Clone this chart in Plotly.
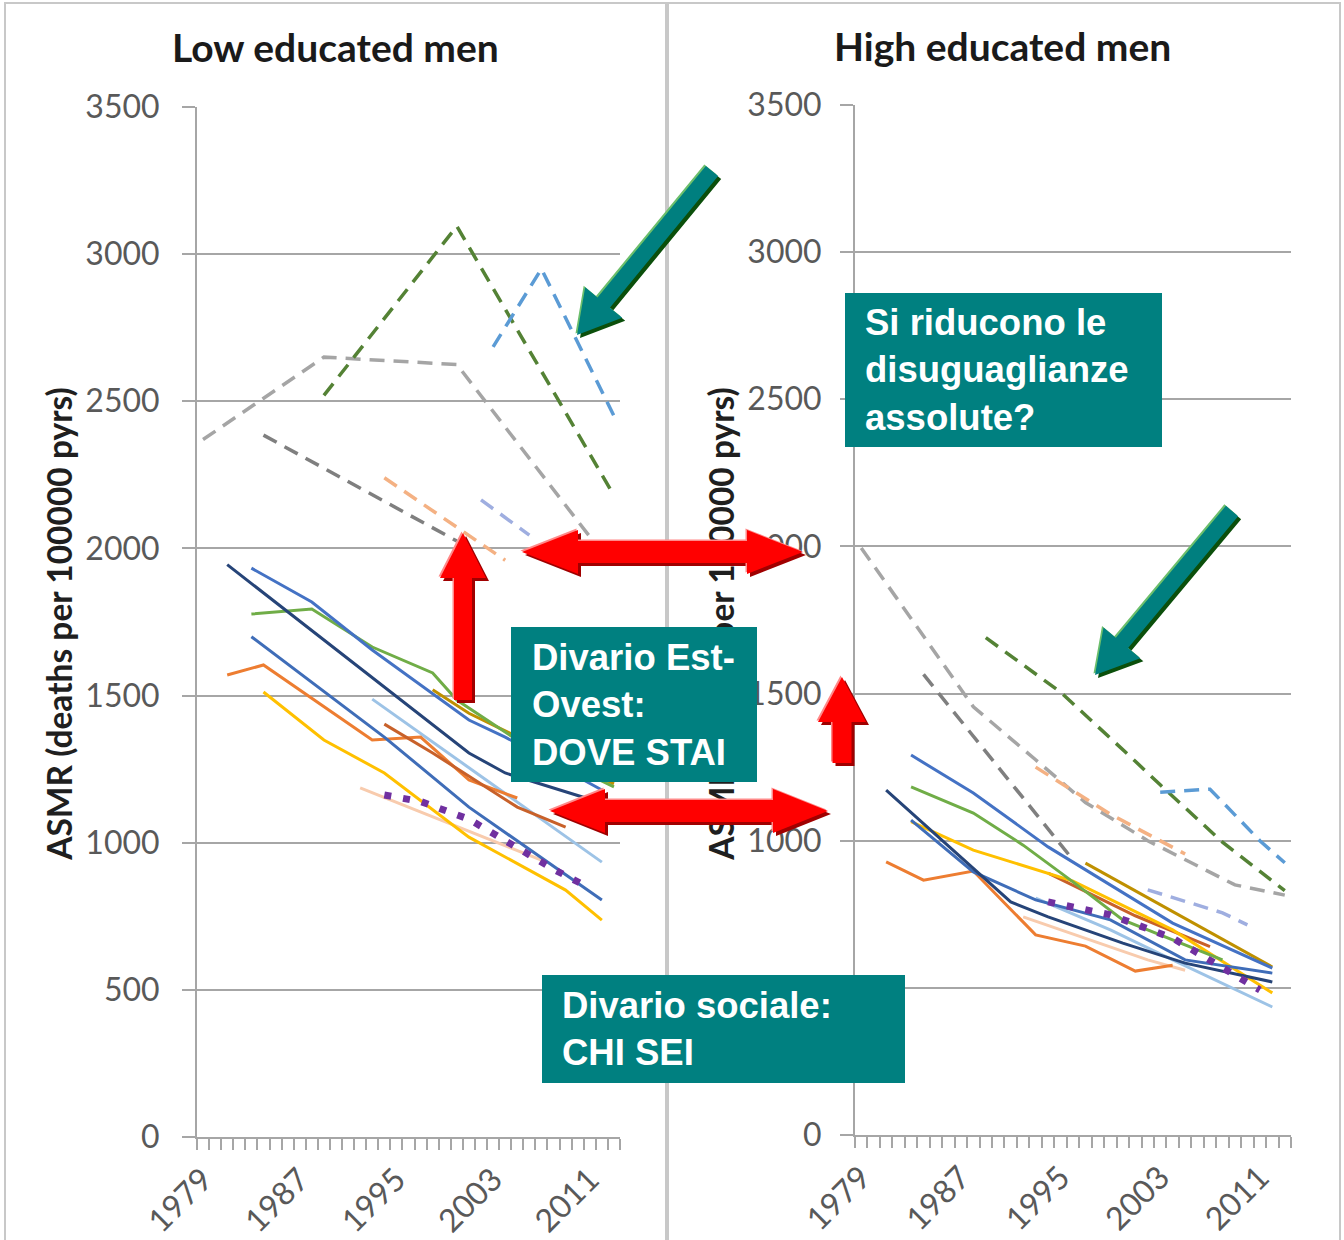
import plotly.graph_objects as go

# ---------------- data ----------------
X_TICKS = [1979, 1987, 1995, 2003, 2011]
X_TICK_LABELS = ["1979", "1987", "1995", "2003", "2011"]
Y_TICKS = [0, 500, 1000, 1500, 2000, 2500, 3000, 3500]

# Low educated men - dashed series
low_gray_light_x = [1979, 1989, 2000, 2011]
low_gray_light_y = [2370, 2650, 2625, 2040]
low_gray_dark_x = [1984, 2000]
low_gray_dark_y = [2385, 2025]
low_salmon_x = [1994, 2004]
low_salmon_y = [2240, 1960]
low_lavender_x = [2002, 2006]
low_lavender_y = [2165, 2045]
low_green_dash_x = [1989, 2000, 2013]
low_green_dash_y = [2520, 3095, 2180]
low_blue_dash_x = [2003, 2007, 2013]
low_blue_dash_y = [2685, 2950, 2450]
# Low educated men - solid series
low_navy_x = [1981, 2001, 2004, 2012]
low_navy_y = [1945, 1305, 1237, 1135]
low_blue_top_x = [1983, 1988, 1993, 2001, 2004, 2012]
low_blue_top_y = [1933, 1818, 1655, 1417, 1359, 1179]
low_green_x = [1983, 1988, 1993, 1998, 2000, 2005, 2013]
low_green_y = [1777, 1794, 1665, 1577, 1485, 1349, 1190]
low_gold_x = [1998, 2001, 2005, 2013]
low_gold_y = [1520, 1440, 1360, 1200]
low_blue_low_x = [1983, 1994, 2001, 2012]
low_blue_low_y = [1700, 1359, 1121, 805]
low_orange_x = [1981, 1984, 1993, 1997, 2001, 2005]
low_orange_y = [1570, 1604, 1349, 1359, 1213, 1152]
low_dkorange_x = [1994, 1998, 2005, 2009]
low_dkorange_y = [1403, 1305, 1121, 1053]
low_lightblue_x = [1993, 2012]
low_lightblue_y = [1488, 934]
low_yellow_x = [1984, 1989, 1994, 2001, 2009, 2012]
low_yellow_y = [1512, 1349, 1237, 1019, 839, 737]
low_peach_x = [1992, 2007]
low_peach_y = [1186, 941]
low_purple_x = [1994, 1997, 2001, 2004, 2008, 2011]
low_purple_y = [1162, 1140, 1080, 1005, 910, 846]

# High educated men - dashed series
high_gray_light_x = [1979, 1988, 1993, 1997, 2002, 2009, 2013]
high_gray_light_y = [1995, 1455, 1275, 1130, 1000, 850, 815]
high_gray_dark_x = [1984, 1996]
high_gray_dark_y = [1565, 935]
high_salmon_x = [1993, 1999, 2005]
high_salmon_y = [1250, 1090, 955]
high_lavender_x = [2002, 2008, 2010]
high_lavender_y = [833, 755, 714]
high_green_dash_x = [1989, 1995, 2001, 2003, 2008, 2013]
high_green_dash_y = [1690, 1505, 1270, 1190, 995, 830]
high_blue_dash_x = [2003, 2007, 2011, 2013]
high_blue_dash_y = [1165, 1175, 1000, 925]
# High educated men - solid series
high_navy_x = [1981, 1991, 1994, 2000, 2005, 2012]
high_navy_y = [1172, 792, 741, 652, 584, 520]
high_blue_top_x = [1983, 1988, 1994, 2004, 2012]
high_blue_top_y = [1291, 1162, 979, 720, 567]
high_green_x = [1983, 1988, 1992, 1996, 2000, 2008]
high_green_y = [1183, 1094, 985, 860, 731, 595]
high_gold_x = [1997, 2012]
high_gold_y = [924, 571]
high_blue_low_x = [1983, 1988, 1993, 1999, 2005, 2012]
high_blue_low_y = [1070, 894, 799, 731, 595, 550]
high_orange_x = [1981, 1984, 1988, 1993, 1997, 2001, 2004]
high_orange_y = [928, 866, 897, 680, 642, 557, 577]
high_dkorange_x = [1994, 2001, 2007]
high_dkorange_y = [890, 745, 640]
high_lightblue_x = [1993, 1999, 2004, 2012]
high_lightblue_y = [805, 697, 595, 435]
high_yellow_x = [1983, 1988, 1996, 2004, 2012]
high_yellow_y = [1065, 968, 863, 697, 483]
high_peach_x = [1992, 2002, 2005]
high_peach_y = [741, 595, 560]
high_purple_x = [1994, 1999, 2004, 2008, 2011]
high_purple_y = [792, 748, 669, 571, 493]

# ---------------- styles ----------------
DASH = "15px,9px"
STY = {
    "gray_light": dict(color="#A5A5A5", width=3.5, dash=DASH),
    "gray_dark": dict(color="#7F7F7F", width=3.5, dash=DASH),
    "salmon": dict(color="#F4B183", width=3.5, dash=DASH),
    "lavender": dict(color="#9FAEE0", width=3.5, dash=DASH),
    "green_dash": dict(color="#548235", width=3.5, dash=DASH),
    "blue_dash": dict(color="#5B9BD5", width=3.5, dash=DASH),
    "navy": dict(color="#264478", width=3),
    "blue_top": dict(color="#4472C4", width=3),
    "green": dict(color="#70AD47", width=3),
    "gold": dict(color="#BF9000", width=3),
    "blue_low": dict(color="#3F6DB8", width=3),
    "orange": dict(color="#ED7D31", width=3),
    "dkorange": dict(color="#C8612A", width=3),
    "lightblue": dict(color="#9DC3E6", width=3),
    "yellow": dict(color="#FFC000", width=3),
    "peach": dict(color="#F8CBAD", width=3),
    "purple": dict(color="#7030A0", width=7, dash="7px,12px"),
}

low_series = [
    ("gray_light", low_gray_light_x, low_gray_light_y),
    ("gray_dark", low_gray_dark_x, low_gray_dark_y),
    ("salmon", low_salmon_x, low_salmon_y),
    ("lavender", low_lavender_x, low_lavender_y),
    ("green_dash", low_green_dash_x, low_green_dash_y),
    ("blue_dash", low_blue_dash_x, low_blue_dash_y),
    ("peach", low_peach_x, low_peach_y),
    ("lightblue", low_lightblue_x, low_lightblue_y),
    ("orange", low_orange_x, low_orange_y),
    ("dkorange", low_dkorange_x, low_dkorange_y),
    ("yellow", low_yellow_x, low_yellow_y),
    ("gold", low_gold_x, low_gold_y),
    ("green", low_green_x, low_green_y),
    ("blue_low", low_blue_low_x, low_blue_low_y),
    ("blue_top", low_blue_top_x, low_blue_top_y),
    ("navy", low_navy_x, low_navy_y),
    ("purple", low_purple_x, low_purple_y),
]
high_series = [
    ("gray_light", high_gray_light_x, high_gray_light_y),
    ("gray_dark", high_gray_dark_x, high_gray_dark_y),
    ("salmon", high_salmon_x, high_salmon_y),
    ("lavender", high_lavender_x, high_lavender_y),
    ("green_dash", high_green_dash_x, high_green_dash_y),
    ("blue_dash", high_blue_dash_x, high_blue_dash_y),
    ("peach", high_peach_x, high_peach_y),
    ("lightblue", high_lightblue_x, high_lightblue_y),
    ("orange", high_orange_x, high_orange_y),
    ("dkorange", high_dkorange_x, high_dkorange_y),
    ("yellow", high_yellow_x, high_yellow_y),
    ("gold", high_gold_x, high_gold_y),
    ("green", high_green_x, high_green_y),
    ("blue_low", high_blue_low_x, high_blue_low_y),
    ("blue_top", high_blue_top_x, high_blue_top_y),
    ("navy", high_navy_x, high_navy_y),
    ("purple", high_purple_x, high_purple_y),
]

W, H = 1344, 1240


def px(x):
    return x / W


def py(y):
    return 1 - y / H


fig = go.Figure()
for name, xs, ys in low_series:
    fig.add_trace(go.Scatter(x=xs, y=ys, mode="lines", line=STY[name], name=name,
                             xaxis="x", yaxis="y", showlegend=False, hoverinfo="skip"))
for name, xs, ys in high_series:
    fig.add_trace(go.Scatter(x=xs, y=ys, mode="lines", line=STY[name], name=name,
                             xaxis="x2", yaxis="y2", showlegend=False, hoverinfo="skip"))

AX = "#A6A6A6"
TICKFONT = dict(family="Lato", size=32, color="#595959")


def xaxis_def(d0, d1, anchor):
    return dict(domain=[px(d0), px(d1)], range=[1978.5, 2013.5], anchor=anchor, automargin=False,
                tickmode="array", tickvals=X_TICKS, ticktext=X_TICK_LABELS,
                tickangle=-45, ticks="", ticklabelstandoff=9, tickfont=TICKFONT,
                showline=True, linecolor=AX, linewidth=2, showgrid=False, zeroline=False,
                minor=dict(ticks="outside", ticklen=11, tickwidth=1.5, tickcolor=AX,
                           tick0=1978.5, dtick=1, showgrid=False),
                fixedrange=True)


def yaxis_def(d0, d1, anchor, standoff):
    return dict(domain=[py(d1), py(d0)], range=[0, 3500], anchor=anchor, automargin=False,
                tickmode="array", tickvals=Y_TICKS, ticks="outside", ticklen=13,
                tickwidth=2, tickcolor=AX, ticklabelstandoff=standoff, tickfont=TICKFONT,
                showline=True, linecolor=AX, linewidth=2, showgrid=True, gridcolor=AX,
                gridwidth=2, zeroline=False, fixedrange=True)


shapes = []
# outer frames of the two charts
shapes.append(dict(type="rect", xref="paper", yref="paper", x0=px(5), x1=px(666), y0=py(1250), y1=py(3),
                   line=dict(color="#C8C8C8", width=2), fillcolor="rgba(0,0,0,0)", layer="below"))
shapes.append(dict(type="rect", xref="paper", yref="paper", x0=px(668), x1=px(1340), y0=py(1250), y1=py(3),
                   line=dict(color="#C8C8C8", width=2), fillcolor="rgba(0,0,0,0)", layer="below"))

YTITLE = "<b>ASMR (deaths per 100000 pyrs)</b>"
for cx in (58, 720):
    shapes.append(dict(type="rect", xref="paper", yref="paper", x0=px(cx - 18), x1=px(cx + 18),
                       y0=py(864), y1=py(383), line=dict(width=0), fillcolor="rgba(0,0,0,0)",
                       layer="above",
                       label=dict(text=YTITLE, textangle=-90, textposition="middle center",
                                  font=dict(family="Lato", size=33.5, color="#1F1F1F"))))


def poly(points):
    return "M " + " L ".join(f"{px(x):.6f},{py(y):.6f}" for x, y in points) + " Z"


def shifted(points, dx, dy):
    return [(x + dx, y + dy) for x, y in points]


def up_arrow(tx, ty, hb, hw, sw, yb):
    return [(tx, ty), (tx + hw, hb), (tx + sw, hb), (tx + sw, yb), (tx - sw, yb), (tx - sw, hb), (tx - hw, hb)]


def double_arrow(xl, xr, yc, hl, hh, sh):
    return [(xl, yc), (xl + hl, yc - hh), (xl + hl, yc - sh), (xr - hl, yc - sh), (xr - hl, yc - hh),
            (xr, yc), (xr - hl, yc + hh), (xr - hl, yc + sh), (xl + hl, yc + sh), (xl + hl, yc + hh)]


def diag_arrow(t, p, sw=8, hw=24, hl=42):
    tx, ty = t
    pxx, pyy = p
    dx, dy = pxx - tx, pyy - ty
    L = (dx * dx + dy * dy) ** 0.5
    ux, uy = dx / L, dy / L
    nx, ny = -uy, ux
    bx, by = pxx - ux * hl, pyy - uy * hl
    return [(tx + nx * sw, ty + ny * sw), (bx + nx * sw, by + ny * sw), (bx + nx * hw, by + ny * hw),
            (pxx, pyy), (bx - nx * hw, by - ny * hw), (bx - nx * sw, by - ny * sw),
            (tx - nx * sw, ty - ny * sw)]


def add_3d(points, main, dark, light):
    for pts, col in ((shifted(points, 3, 3), dark), (shifted(points, -1.5, -1.5), light), (points, main)):
        shapes.append(dict(type="path", xref="paper", yref="paper", path=poly(pts),
                           fillcolor=col, line=dict(width=0), layer="above"))


RED, RED_D, RED_L = "#FF0000", "#A00000", "#FF8A8A"
add_3d(up_arrow(463, 533, 578, 23, 9, 700), RED, RED_D, RED_L)
add_3d(up_arrow(842, 677, 722, 24, 9.5, 763), RED, RED_D, RED_L)
add_3d(double_arrow(522, 803, 552, 56, 22, 11), RED, RED_D, RED_L)
add_3d(double_arrow(550, 828, 811, 55, 22, 11), RED, RED_D, RED_L)

TEAL, TEAL_D, TEAL_L = "#007F7F", "#0B4F0B", "#6CBF6C"
add_3d(diag_arrow((712, 171), (577, 335)), TEAL, TEAL_D, TEAL_L)
add_3d(diag_arrow((1232, 511), (1095, 675)), TEAL, TEAL_D, TEAL_L)

# teal text boxes
BOXES = [
    ((845, 293, 1162, 447), 863, 370, "Si riducono le<br>disuguaglianze<br>assolute?"),
    ((511, 627, 757, 782), 530, 705, "Divario Est-<br>Ovest:<br>DOVE STAI"),
    ((542, 975, 905, 1083), 560, 1029, "Divario sociale:<br>CHI SEI"),
]
annotations = []
for (x0, y0, x1, y1), tx, ty, txt in BOXES:
    shapes.append(dict(type="rect", xref="paper", yref="paper", x0=px(x0), x1=px(x1), y0=py(y1), y1=py(y0),
                       fillcolor="#008080", line=dict(width=0), layer="above"))
    annotations.append(dict(xref="paper", yref="paper", x=px(tx), y=py(ty), xanchor="left", yanchor="middle",
                            align="left", showarrow=False, text=f"<b>{txt}</b>",
                            font=dict(family="Liberation Sans", size=36.5, color="white")))

annotations.append(dict(xref="paper", yref="paper", x=px(335), y=py(47), xanchor="center", yanchor="middle",
                        showarrow=False, text="<b>Low educated men</b>",
                        font=dict(family="Lato", size=39, color="#1A1A1A")))
annotations.append(dict(xref="paper", yref="paper", x=px(1002), y=py(46), xanchor="center", yanchor="middle",
                        showarrow=False, text="<b>High educated men</b>",
                        font=dict(family="Lato", size=39, color="#1A1A1A")))

fig.update_layout(
    width=W, height=H, margin=dict(l=0, r=0, t=0, b=0, autoexpand=False),
    paper_bgcolor="white", plot_bgcolor="white", showlegend=False,
    xaxis=xaxis_def(197, 620, "y"), yaxis=yaxis_def(107, 1137, "x", 16),
    xaxis2=xaxis_def(855, 1291, "y2"), yaxis2=yaxis_def(105, 1135, "x2", 12),
    shapes=shapes, annotations=annotations,
)

fig.write_html("out.html", config={"displayModeBar": False},
               post_script="document.body.style.margin='0';document.body.style.overflow='hidden';")
